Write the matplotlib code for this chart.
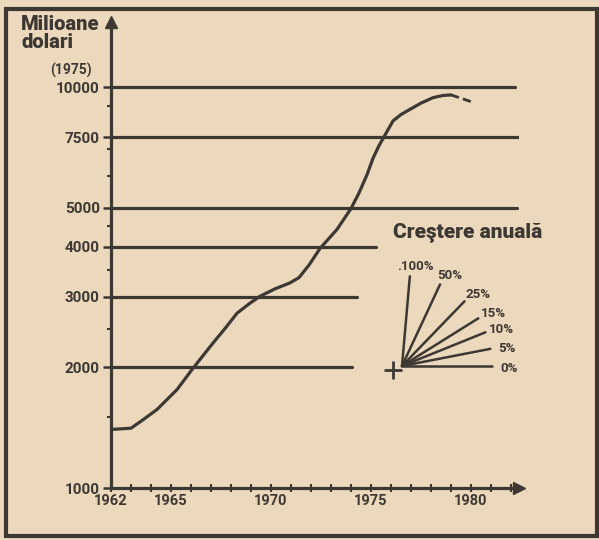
import numpy as np
import matplotlib.pyplot as plt
from matplotlib.patches import Rectangle

plt.rcParams['font.family'] = ['Roboto', 'DejaVu Sans']

# valori (milioane dolari, preturi 1975)
years = [1962, 1963, 1963.6, 1964.3, 1965.3, 1966.1, 1967.1, 1967.7, 1968.3,
         1968.9, 1969.45, 1970.2, 1970.95, 1971.4, 1971.9, 1972.45, 1973.3,
         1974.0, 1974.4, 1974.8, 1975.1, 1975.4, 1975.7, 1976.1, 1976.5,
         1976.95, 1977.5, 1978.1, 1978.6, 1979.0]
values = [1400, 1410, 1480, 1570, 1760, 1990, 2300, 2500, 2730,
          2880, 3010, 3140, 3250, 3350, 3600, 3960, 4420,
          4980, 5450, 6050, 6650, 7150, 7600, 8240, 8550,
          8810, 9130, 9420, 9540, 9570]
# portiunea estimata (punctata)
years_est = [1979.0, 1979.5, 1980.1]
values_est = [9570, 9390, 9170]

# linii orizontale de referinta si unde se termina
ref_levels = [2000, 3000, 4000, 5000, 7500, 10000]
ref_ends = [1974.05, 1974.3, 1975.25, 1982.3, 1982.55, 1982.2]

ytick_vals = [1000, 2000, 3000, 4000, 5000, 7500, 10000]
yminor_vals = [1500, 2500, 3500, 4500, 6000, 7000, 9000]
xlabel_years = [1962, 1965, 1970, 1975, 1980]

# evantaiul "Crestere anuala"
rate_labels = ['0%', '5%', '10%', '15%', '25%', '50%', '.100%']
rate_angles = [0, 11, 22, 32, 46, 65, 85]

bg = '#ecd8bd'
ink = '#3d3832'
W, H = 599, 540

fig = plt.figure(figsize=(W / 100, H / 100), dpi=100, facecolor=bg)

ax = fig.add_axes([111 / W, 1 - 488 / H, (519 - 111) / W, (488 - 22) / H])
ax.patch.set_alpha(0)
ax.set_yscale('log')
ax.set_xlim(1962, 1982.4)
ax.set_ylim(1000, 14550)

for lev, end in zip(ref_levels, ref_ends):
    ax.plot([1962, end], [lev, lev], color=ink, lw=2.3, solid_capstyle='round')

ax.plot(years, values, color=ink, lw=2.3, solid_capstyle='round',
        solid_joinstyle='round')
ax.plot(years_est, values_est, color=ink, lw=2.0, dashes=(3, 1.5))

for s in ['top', 'right']:
    ax.spines[s].set_visible(False)
for s in ['left', 'bottom']:
    ax.spines[s].set_linewidth(2.3)
    ax.spines[s].set_color(ink)

# sageti la capatul axelor
ax.plot(1, 0, marker='>', ms=8, color=ink, transform=ax.transAxes, clip_on=False)
ax.plot(0, 1, marker='^', ms=8, color=ink, transform=ax.transAxes, clip_on=False)

ax.set_yticks(ytick_vals)
ax.set_yticklabels([str(v) for v in ytick_vals])
ax.set_yticks(yminor_vals, minor=True)
ax.set_yticklabels([], minor=True)
ax.tick_params(axis='y', which='major', direction='out', length=6, width=1.8,
               color=ink, pad=2, labelsize=11, labelcolor=ink)
ax.tick_params(axis='y', which='minor', direction='out', length=3, width=1.5, color=ink)
for t in ax.get_yticklabels():
    t.set_fontweight('bold')

ax.set_xticks(np.arange(1962, 1983))
ax.set_xticklabels([str(y) if y in xlabel_years else '' for y in range(1962, 1983)])
ax.tick_params(axis='x', direction='inout', length=6, width=1.5, color=ink,
               pad=1, labelsize=10.5, labelcolor=ink)
for t in ax.get_xticklabels():
    t.set_fontweight('bold')

# strat in pixeli pentru titluri, evantai si chenar
ov = fig.add_axes([0, 0, 1, 1])
ov.set_xlim(0, W)
ov.set_ylim(H, 0)
ov.axis('off')
ov.patch.set_alpha(0)

ov.text(21, 15, 'Milioane\ndolari', ha='left', va='top', fontsize=14.5,
        fontweight='black', color=ink, linespacing=0.95)
ov.text(71, 70, '(1975)', ha='center', va='center', fontsize=10,
        fontweight='bold', color=ink)

ov.text(468, 232, 'Creştere anuală', ha='center', va='center', fontsize=15,
        fontweight='black', color=ink)

ox, oy, length = 402, 366, 90
for lab, ang in zip(rate_labels, rate_angles):
    a = np.radians(ang)
    ex, ey = ox + length * np.cos(a), oy - length * np.sin(a)
    ov.plot([ox, ex], [oy, ey], color=ink, lw=1.8, solid_capstyle='round')
    ov.text(ex + 12 * np.cos(a) + 5, ey - 12 * np.sin(a) + 2, lab,
            ha='center', va='center', fontsize=9.5, fontweight='bold', color=ink)
ov.plot(393, 370, marker='+', ms=13, mew=2, color=ink)

ov.add_patch(Rectangle((6, 9), 591, 527, fill=False, lw=3, edgecolor=ink))

fig.savefig('out.png', dpi=100, facecolor=bg)
